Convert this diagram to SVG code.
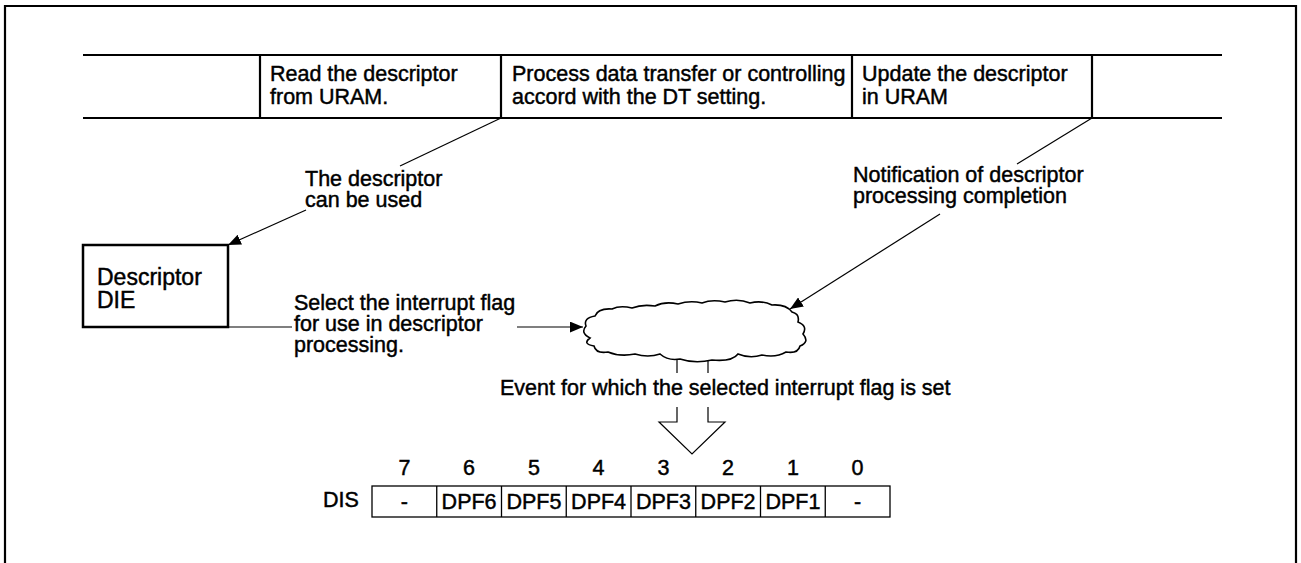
<svg xmlns="http://www.w3.org/2000/svg" width="1301" height="563" viewBox="0 0 1301 563">
<style>
text{font-family:"Liberation Sans",Arial,sans-serif;font-size:21.5px;fill:#000;stroke:#000;stroke-width:0.45}
.thick{stroke:#000;stroke-width:2.2;fill:none}
.thin{stroke:#000;stroke-width:1.2;fill:none}
.cell{stroke:#000;stroke-width:1.3;fill:#fff}
.c{text-anchor:middle}
.box{font-size:23px}
</style>
<defs>
<marker id="ah" viewBox="0 0 12 10" refX="12" refY="5" markerWidth="13" markerHeight="11" markerUnits="userSpaceOnUse" orient="auto">
<path d="M0,0 L12,5 L0,10 Z" fill="#000"/>
</marker>
</defs>
<rect x="0" y="0" width="1301" height="563" fill="#fff"/>
<path class="thick" d="M5,570 V6 H1296 V570"/>
<g id="band">
<path class="thick" d="M83,55 H1222 M83,118 H1222 M260,55 V118 M501,55 V118 M852,55 V118 M1092,55 V118"/>
<text x="270" y="81">Read the descriptor</text>
<text x="270" y="104">from URAM.</text>
<text x="512" y="81">Process data transfer or controlling</text>
<text x="512" y="104">accord with the DT setting.</text>
<text x="862" y="81">Update the descriptor</text>
<text x="862" y="104">in URAM</text>
</g>
<g id="descriptor-box">
<rect x="83" y="245" width="145" height="82" fill="#fff" stroke="#000" stroke-width="2.5"/>
<text class="box" x="97" y="285">Descriptor</text>
<text class="box" x="97" y="308">DIE</text>
</g>
<g id="cloud">
<path d="M586,326 Q583,318 595,316 Q598,308 612,309 Q620,305 632,308 Q642,304 655,306 Q665,301 678,304 Q690,300 702,303 Q712,299 725,302 Q738,298 750,303 Q762,300 772,305 Q786,304 792,312 Q800,314 798,322 Q808,326 803,334 Q810,342 800,346 Q798,354 786,352 Q776,358 762,355 Q750,359 738,354 Q732,362 712,360 Q695,364 680,359 Q668,361 660,354 Q648,358 635,354 Q620,357 608,352 Q596,354 594,346 Q582,344 590,338 Q580,333 586,326 Z" fill="#fff" stroke="#000" stroke-width="1.6"/>
</g>
<g id="labels">
<text x="305" y="186">The descriptor</text>
<text x="305" y="207">can be used</text>
<text x="853" y="182">Notification of descriptor</text>
<text x="853" y="203">processing completion</text>
<text x="294" y="310">Select the interrupt flag</text>
<text x="294" y="331">for use in descriptor</text>
<text x="294" y="352">processing.</text>
<text x="500" y="395">Event for which the selected interrupt flag is set</text>
</g>
<g id="connectors">
<path class="thin" d="M501,118 L400,166"/>
<path class="thin" d="M306,210 L228,245" marker-end="url(#ah)"/>
<path class="thin" d="M1092,118 L1017,164"/>
<path class="thin" d="M940,214 L790,309" marker-end="url(#ah)"/>
<path class="thin" d="M228,327 H292"/>
<path class="thin" d="M517,327 H583" marker-end="url(#ah)"/>
<path class="thin" d="M677,360 V373 M708,360 V373"/>
<path class="thin" d="M677,407 V422 H659 L692,454 L725,422 H708 V407"/>
</g>
<g id="dis-register">
<text x="323" y="507">DIS</text>
<rect class="cell" x="372" y="486" width="518" height="31"/>
<path class="cell" d="M436.75,486 V517 M501.5,486 V517 M566.25,486 V517 M631,486 V517 M695.75,486 V517 M760.5,486 V517 M825.25,486 V517"/>
<text class="c" x="404.4" y="475">7</text>
<text class="c" x="469.1" y="475">6</text>
<text class="c" x="533.9" y="475">5</text>
<text class="c" x="598.6" y="475">4</text>
<text class="c" x="663.4" y="475">3</text>
<text class="c" x="728.1" y="475">2</text>
<text class="c" x="792.9" y="475">1</text>
<text class="c" x="857.6" y="475">0</text>
<text class="c" x="404.4" y="509">-</text>
<text class="c" x="469.1" y="509">DPF6</text>
<text class="c" x="533.9" y="509">DPF5</text>
<text class="c" x="598.6" y="509">DPF4</text>
<text class="c" x="663.4" y="509">DPF3</text>
<text class="c" x="728.1" y="509">DPF2</text>
<text class="c" x="792.9" y="509">DPF1</text>
<text class="c" x="857.6" y="509">-</text>
</g>
</svg>
